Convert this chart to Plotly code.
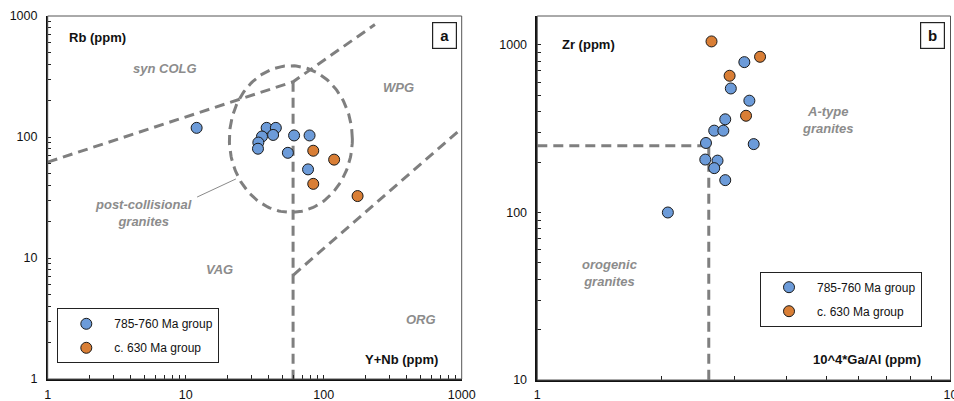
import numpy as np
import plotly.graph_objects as go

W, H = 954, 401

# ---- Panel a: Rb vs Y+Nb (Pearce et al. style discrimination) ----
a_blue_ynb = [12, 38.6, 45, 35.7, 43, 61, 79, 33.6, 33.4, 55, 77]
a_blue_rb = [119, 119, 119, 101, 104, 103, 103, 90, 80, 74, 54]
a_orange_ynb = [84, 119, 84, 176]
a_orange_rb = [77, 65, 41, 32.5]

# ---- Panel b: Zr vs 10^4*Ga/Al (Whalen et al. style discrimination) ----
b_blue_gaal = [3.17, 2.94, 3.26, 2.85, 2.68, 2.82, 2.56, 3.34, 2.55, 2.73, 2.68, 2.85, 2.07]
b_blue_zr = [790, 550, 465, 360, 308, 308, 260, 256, 207, 204, 184, 156, 100]
b_orange_gaal = [2.64, 3.46, 2.92, 3.20]
b_orange_zr = [1050, 850, 655, 378]

# field boundaries, panel a
colg_x, colg_y = [1, 60, 235], [62, 286, 850]
vag_x, vag_y = [60, 60], [286, 1]
org_x, org_y = [60, 1000], [7.2, 118]
post_center_log = (1.762, 1.983)   # log10(Y+Nb), log10(Rb)
post_radius_log = (0.4457, 0.606)
leader_x, leader_y = [23.1, 12.1], [45.0, 31.9]

# field boundaries, panel b
whalen_h_x, whalen_h_y = [1, 2.6], [250, 250]
whalen_v_x, whalen_v_y = [2.6, 2.6], [250, 10]

group_names = ["785-760 Ma group", "c. 630 Ma group"]
BLUE, ORANGE = "#6C9BD9", "#D97E35"
GREY = "#7F7F7F"
LABEL_GREY = "#8C8C8C"
FONT = "Liberation Sans, Arial, sans-serif"


def px(x, y):
    """pixel position -> paper coordinates"""
    return x / W, 1 - y / H


fig = go.Figure()

dash = "10px,6px"

# panel a boundaries
t = np.linspace(0, 2 * np.pi, 200)
ell_x = 10 ** (post_center_log[0] + post_radius_log[0] * np.cos(t))
ell_y = 10 ** (post_center_log[1] + post_radius_log[1] * np.sin(t))
for xs, ys in [(colg_x, colg_y), (vag_x, vag_y), (org_x, org_y), (ell_x, ell_y)]:
    fig.add_trace(go.Scatter(x=xs, y=ys, mode="lines", xaxis="x", yaxis="y",
                             line=dict(color=GREY, width=3, dash=dash),
                             showlegend=False, hoverinfo="skip"))
fig.add_trace(go.Scatter(x=leader_x, y=leader_y, mode="lines", xaxis="x", yaxis="y",
                         line=dict(color="#8A8A8A", width=1), showlegend=False,
                         hoverinfo="skip"))

# panel b boundaries
for xs, ys in [(whalen_h_x, whalen_h_y), (whalen_v_x, whalen_v_y)]:
    fig.add_trace(go.Scatter(x=xs, y=ys, mode="lines", xaxis="x2", yaxis="y2",
                             line=dict(color=GREY, width=3, dash=dash),
                             showlegend=False, hoverinfo="skip"))

marker_line = dict(color="#1A1A1A", width=1)
MS = 11

fig.add_trace(go.Scatter(x=a_blue_ynb, y=a_blue_rb, mode="markers", name=group_names[0],
                         xaxis="x", yaxis="y", legend="legend", legendgroup="a1",
                         marker=dict(size=MS, color=BLUE, line=marker_line)))
fig.add_trace(go.Scatter(x=a_orange_ynb, y=a_orange_rb, mode="markers", name=group_names[1],
                         xaxis="x", yaxis="y", legend="legend", legendgroup="a2",
                         marker=dict(size=MS, color=ORANGE, line=marker_line)))
fig.add_trace(go.Scatter(x=b_blue_gaal, y=b_blue_zr, mode="markers", name=group_names[0],
                         xaxis="x2", yaxis="y2", legend="legend2", legendgroup="b1",
                         marker=dict(size=MS, color=BLUE, line=marker_line)))
fig.add_trace(go.Scatter(x=b_orange_gaal, y=b_orange_zr, mode="markers", name=group_names[1],
                         xaxis="x2", yaxis="y2", legend="legend2", legendgroup="b2",
                         marker=dict(size=MS, color=ORANGE, line=marker_line)))


def minor_vals(lo, hi):
    return [m * 10 ** d for d in range(lo, hi) for m in range(2, 10)]


def log_axis(domain, rng, major, minor, anchor, standoff):
    return dict(type="log", domain=domain, range=rng, anchor=anchor, automargin=False,
                tickmode="array", tickvals=major, ticktext=[f"{v:g}" for v in major],
                ticks="inside", ticklen=4, tickwidth=1, tickcolor="#222",
                minor=dict(tickmode="array", tickvals=minor, ticks="inside",
                           ticklen=4, tickwidth=1, tickcolor="#222", showgrid=False),
                showline=True, linecolor="#111", linewidth=1.5, mirror=False,
                showgrid=False, zeroline=False, ticklabelstandoff=standoff,
                ticklabeloverflow="allow",
                tickfont=dict(family=FONT, size=12.5, color="#111"))


ax_dom = [47.7 / W, 461.7 / W]
ay_dom = [1 - 379 / H, 1 - 16 / H]
bx_dom = [537.3 / W, 950.5 / W]
by_dom = [1 - 380 / H, 1 - 16 / H]

legend_style = dict(xanchor="left", yanchor="top", bordercolor="#222", borderwidth=1,
                    bgcolor="white", font=dict(family=FONT, size=12, color="#111"),
                    itemwidth=46, entrywidth=168, entrywidthmode="pixels",
                    tracegroupgap=5, traceorder="grouped")

fig.update_layout(
    width=W, height=H, margin=dict(l=0, r=0, t=0, b=0, autoexpand=False),
    paper_bgcolor="white", plot_bgcolor="white",
    font=dict(family=FONT, color="#111"),
    xaxis=log_axis(ax_dom, [0, 3], [1, 10, 100, 1000], minor_vals(0, 3), "y", 3),
    yaxis=log_axis(ay_dom, [0, 3], [1, 10, 100, 1000], minor_vals(0, 3), "x", 6),
    xaxis2=log_axis(bx_dom, [0, 1], [1, 10], minor_vals(0, 1), "y2", 2),
    yaxis2=log_axis(by_dom, [1, 3.173], [10, 100, 1000], minor_vals(1, 4), "x2", 6),
    legend=dict(x=px(57.3, 0)[0], y=px(0, 308.3)[1], **legend_style),
    legend2=dict(x=px(760, 0)[0], y=px(0, 271.7)[1], **legend_style),
)

# light frame around each plotting area
for xr, yr in [("x", "y"), ("x2", "y2")]:
    fig.add_shape(type="rect", xref=f"{xr} domain", yref=f"{yr} domain",
                  x0=0, x1=1, y0=0, y1=1, line=dict(color="#555", width=1),
                  layer="above")


def note(text, x, y, xanchor="center", bold=True, italic=False, color="#111", size=13):
    s = text
    if bold:
        s = f"<b>{s}</b>"
    if italic:
        s = f"<i>{s}</i>"
    xp, yp = px(x, y)
    fig.add_annotation(text=s, x=xp, y=yp, xref="paper", yref="paper",
                       xanchor=xanchor, yanchor="middle", showarrow=False,
                       font=dict(family=FONT, size=size, color=color))


# panel a labels
note("Rb (ppm)", 66.5, 38, xanchor="left")
note("Y+Nb (ppm)", 439.5, 359, xanchor="right")
note("syn COLG", 165, 68.5, italic=True, color=LABEL_GREY)
note("WPG", 398, 87.5, italic=True, color=LABEL_GREY)
note("post-collisional<br>granites", 143.5, 213, italic=True, color=LABEL_GREY)
note("VAG", 219, 269, italic=True, color=LABEL_GREY)
note("ORG", 421, 319, italic=True, color=LABEL_GREY)

# panel b labels
note("Zr (ppm)", 560, 44, xanchor="left")
note("10^4*Ga/Al (ppm)", 922.5, 359, xanchor="right")
note("A-type<br>granites", 828, 120, italic=True, color=LABEL_GREY)
note("orogenic<br>granites", 610, 272.5, italic=True, color=LABEL_GREY)

# panel letters
for letter, cx in [("a", 444.2), ("b", 932.2)]:
    xp, yp = px(cx, 35.5)
    fig.add_annotation(text=f"<b>{letter}</b>", x=xp, y=yp, xref="paper", yref="paper",
                       xanchor="center", yanchor="middle", showarrow=False,
                       width=21, height=23, borderpad=1, bordercolor="#222",
                       borderwidth=1.2, bgcolor="white",
                       font=dict(family=FONT, size=15, color="#111"))

fig.write_html("out.html")
